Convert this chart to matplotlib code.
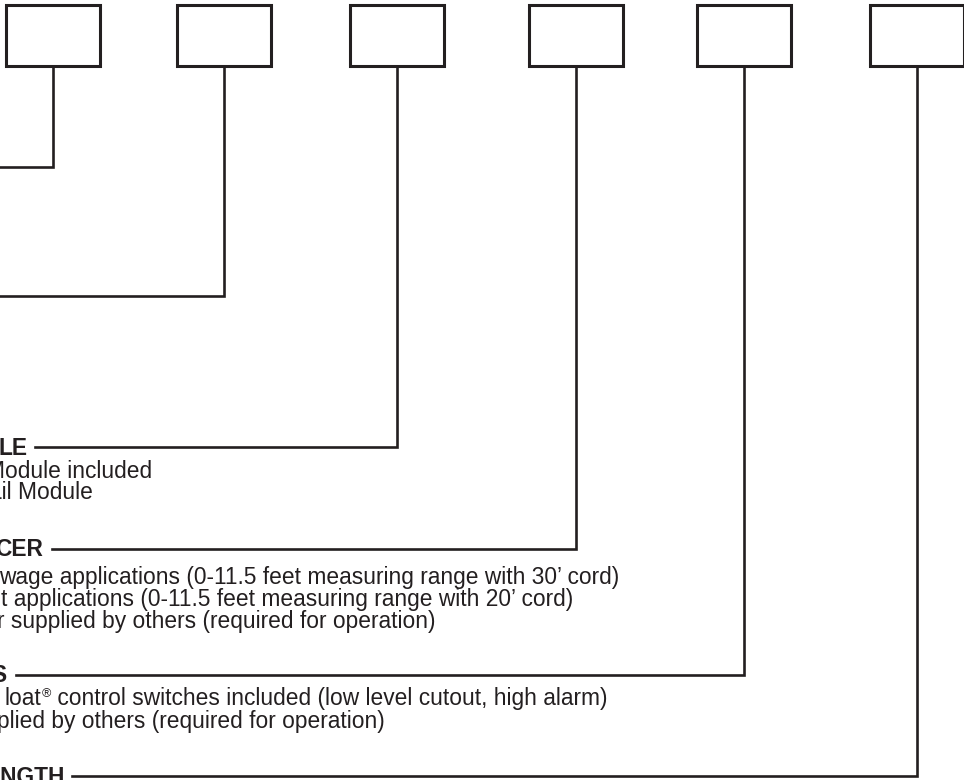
"""Ordering-code diagram: six code boxes with leader lines to option groups."""

import matplotlib
matplotlib.use("Agg")
import matplotlib.pyplot as plt
from matplotlib.patches import Rectangle

# option groups (only the part visible in the crop)
headings = ["LE", "CER", "S", "ENGTH"]
group_rows = [
    ["Module included", "ail Module"],
    ["wage applications (0-11.5 feet measuring range with 30\u2019 cord)",
     "t applications (0-11.5 feet measuring range with 20\u2019 cord)",
     "r supplied by others (required for operation)"],
    ["loat\u00ae control switches included (low level cutout, high alarm)",
     "plied by others (required for operation)"],
    [],
]

INK = "#231f20"
FONT = "Liberation Sans"
FS = 16.4

# layout (pixels, y down)
box_left = [6, 177, 350, 529, 697, 870]
box_w, box_top, box_bot = 94, 5, 66
# leader line y for each box; first two run off the left edge
leader_y = [167, 296, 447, 549, 675, 776]
heading_end = [None, None, 28, 43, 6, 65]      # right edge of heading text
line_start = [-5, -5, 35, 52, 16, 72]          # where horizontal leader starts
heading_base = [455, 556, 682, 784]
row_x = [[-14, -11], [-1, 1, -3], [4, -3], []]
row_base = [[478, 499], [584, 606, 628], [705, 728], []]

fig = plt.figure(figsize=(9.64, 7.80), dpi=100)
ax = fig.add_axes([0, 0, 1, 1])
ax.set_xlim(0, 964)
ax.set_ylim(780, 0)
ax.axis("off")
renderer = fig.canvas.get_renderer()


def put_text(x, yb, txt):
    """Write a row; a registered mark is set as a small superscript."""
    parts = txt.split("\u00ae")
    for k, part in enumerate(parts):
        t = ax.text(x, yb, part, ha="left", va="baseline", fontsize=FS,
                    family=FONT, color=INK)
        bb = t.get_window_extent(renderer)
        x = ax.transData.inverted().transform((bb.x1, bb.y0))[0]
        if k < len(parts) - 1:
            r = ax.text(x + 0.5, yb - 8, "\u00ae", ha="left", va="baseline",
                        fontsize=FS * 0.55, family=FONT, color=INK)
            rb = r.get_window_extent(renderer)
            x = ax.transData.inverted().transform((rb.x1, rb.y0))[0] + 0.5


for i, x0 in enumerate(box_left):
    ax.add_patch(Rectangle((x0, box_top), box_w, box_bot - box_top,
                           fill=False, edgecolor=INK, linewidth=2.2))
    xs = x0 + box_w / 2
    ax.plot([xs, xs, line_start[i]], [box_bot, leader_y[i], leader_y[i]],
            color=INK, linewidth=1.9, solid_joinstyle="miter")

for g, title in enumerate(headings):
    ax.text(heading_end[g + 2], heading_base[g], title, ha="right",
            va="baseline", fontsize=FS, fontweight="bold", family=FONT,
            color=INK)
    for txt, x, yb in zip(group_rows[g], row_x[g], row_base[g]):
        put_text(x, yb, txt)

fig.savefig("out.png", dpi=100)
plt.close(fig)
